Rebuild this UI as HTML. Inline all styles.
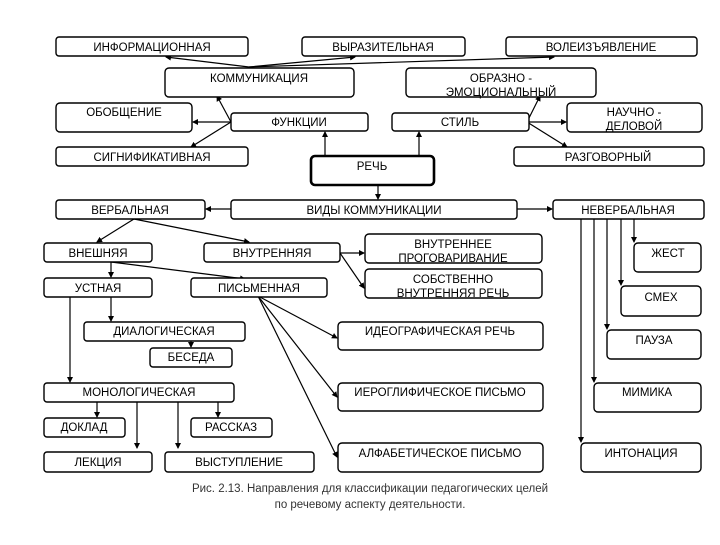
<!DOCTYPE html>
<html><head><meta charset="utf-8"><style>
body{margin:0;background:#fff}
svg text{font-family:"Liberation Sans Narrow","Liberation Sans",sans-serif;font-size:11.5px;fill:#000;text-anchor:middle}
.b{fill:#fff;stroke:#000;stroke-width:1.4}
.l{stroke:#000;stroke-width:1.2;fill:none}
.c{font-family:"Liberation Sans",sans-serif;font-size:11.5px;fill:#333}
</style></head><body>
<svg width="720" height="540" viewBox="0 0 720 540" xmlns="http://www.w3.org/2000/svg">
<defs><marker id="a" markerWidth="6" markerHeight="6" refX="5" refY="3" orient="auto" markerUnits="userSpaceOnUse"><path d="M0,0 L6,3 L0,6 z" fill="#000"/></marker></defs>
<g class="l" marker-end="url(#a)">
<line x1="249" y1="67" x2="166" y2="57"/><line x1="249" y1="67" x2="355" y2="57"/><line x1="249" y1="67" x2="554" y2="57"/>
<line x1="231" y1="122" x2="217" y2="96"/><line x1="231" y1="122" x2="193" y2="122"/><line x1="231" y1="122" x2="191" y2="147"/>
<line x1="527" y1="122" x2="540" y2="96"/><line x1="527" y1="122" x2="566" y2="122"/><line x1="527" y1="122" x2="567" y2="147"/>
<line x1="325" y1="156" x2="325" y2="132"/><line x1="419" y1="156" x2="419" y2="132"/><line x1="378" y1="185" x2="378" y2="199"/>
<line x1="231" y1="209" x2="206" y2="209"/><line x1="517" y1="209" x2="552" y2="209"/>
<line x1="134" y1="219" x2="97" y2="242"/><line x1="134" y1="219" x2="249" y2="242"/>
<line x1="340" y1="253" x2="364" y2="253"/><line x1="340" y1="253" x2="364" y2="288"/>
<line x1="111" y1="262" x2="111" y2="277"/><line x1="111" y1="262" x2="245" y2="279"/>
<line x1="111" y1="297" x2="111" y2="321"/><line x1="70" y1="297" x2="70" y2="382"/>
<line x1="191" y1="341" x2="191" y2="347"/>
<line x1="258" y1="296" x2="337" y2="338"/><line x1="258" y1="296" x2="337" y2="397"/><line x1="258" y1="296" x2="337" y2="457"/>
<line x1="97" y1="402" x2="97" y2="417"/><line x1="137" y1="402" x2="137" y2="448"/><line x1="178" y1="402" x2="178" y2="448"/><line x1="218" y1="402" x2="218" y2="417"/>
<line x1="634" y1="219" x2="634" y2="242"/><line x1="621" y1="219" x2="621" y2="285"/><line x1="607" y1="219" x2="607" y2="329"/><line x1="594" y1="219" x2="594" y2="382"/><line x1="581" y1="219" x2="581" y2="442"/>
</g>
<g class="b">
<rect x="56" y="37" width="192" height="19" rx="3"/><rect x="302" y="37" width="163" height="19" rx="3"/><rect x="506" y="37" width="191" height="19" rx="3"/>
<rect x="165" y="68" width="189" height="29" rx="4"/><rect x="406" y="68" width="190" height="29" rx="4"/>
<rect x="56" y="103" width="136" height="29" rx="4"/><rect x="231" y="113" width="137" height="18" rx="3"/><rect x="392" y="113" width="137" height="18" rx="3"/><rect x="567" y="103" width="135" height="29" rx="4"/>
<rect x="56" y="147" width="192" height="19" rx="3"/><rect x="514" y="147" width="190" height="19" rx="3"/>
<rect x="311" y="156" width="123" height="29" rx="4" style="stroke-width:2.6"/>
<rect x="56" y="200" width="149" height="19" rx="3"/><rect x="231" y="200" width="286" height="19" rx="3"/><rect x="553" y="200" width="151" height="19" rx="3"/>
<rect x="44" y="243" width="108" height="19" rx="3"/><rect x="204" y="243" width="136" height="19" rx="3"/>
<rect x="365" y="234" width="177" height="29" rx="4"/><rect x="365" y="269" width="177" height="29" rx="4"/>
<rect x="44" y="278" width="108" height="19" rx="3"/><rect x="191" y="278" width="136" height="19" rx="3"/>
<rect x="84" y="322" width="161" height="19" rx="3"/><rect x="150" y="348" width="82" height="19" rx="3"/>
<rect x="338" y="322" width="205" height="28" rx="4"/><rect x="338" y="383" width="205" height="28" rx="4"/><rect x="338" y="443" width="205" height="29" rx="4"/>
<rect x="44" y="383" width="190" height="19" rx="3"/><rect x="44" y="418" width="81" height="19" rx="3"/><rect x="191" y="418" width="81" height="19" rx="3"/>
<rect x="44" y="452" width="108" height="20" rx="3"/><rect x="165" y="452" width="149" height="20" rx="3"/>
<rect x="634" y="243" width="67" height="29" rx="4"/><rect x="621" y="286" width="80" height="30" rx="4"/><rect x="607" y="330" width="94" height="29" rx="4"/><rect x="594" y="383" width="107" height="29" rx="4"/><rect x="581" y="443" width="120" height="29" rx="4"/>
</g>
<text x="152" y="51">ИНФОРМАЦИОННАЯ</text><text x="383" y="51">ВЫРАЗИТЕЛЬНАЯ</text><text x="601" y="51">ВОЛЕИЗЪЯВЛЕНИЕ</text>
<text x="259" y="82">КОММУНИКАЦИЯ</text><text x="501" y="82">ОБРАЗНО -</text><text x="501" y="96">ЭМОЦИОНАЛЬНЫЙ</text>
<text x="124" y="116">ОБОБЩЕНИЕ</text><text x="299" y="126">ФУНКЦИИ</text><text x="460" y="126">СТИЛЬ</text>
<text x="634" y="116">НАУЧНО -</text><text x="634" y="130">ДЕЛОВОЙ</text>
<text x="152" y="161">СИГНИФИКАТИВНАЯ</text><text x="608" y="161">РАЗГОВОРНЫЙ</text><text x="372" y="170">РЕЧЬ</text>
<text x="130" y="214">ВЕРБАЛЬНАЯ</text><text x="374" y="214">ВИДЫ КОММУНИКАЦИИ</text><text x="628" y="214">НЕВЕРБАЛЬНАЯ</text>
<text x="98" y="257">ВНЕШНЯЯ</text><text x="272" y="257">ВНУТРЕННЯЯ</text>
<text x="453" y="248">ВНУТРЕННЕЕ</text><text x="453" y="262">ПРОГОВАРИВАНИЕ</text>
<text x="453" y="283">СОБСТВЕННО</text><text x="453" y="297">ВНУТРЕННЯЯ РЕЧЬ</text>
<text x="98" y="292">УСТНАЯ</text><text x="259" y="292">ПИСЬМЕННАЯ</text>
<text x="164" y="335">ДИАЛОГИЧЕСКАЯ</text><text x="191" y="361">БЕСЕДА</text>
<text x="440" y="335">ИДЕОГРАФИЧЕСКАЯ РЕЧЬ</text><text x="440" y="396">ИЕРОГЛИФИЧЕСКОЕ ПИСЬМО</text><text x="440" y="457">АЛФАБЕТИЧЕСКОЕ ПИСЬМО</text>
<text x="139" y="396">МОНОЛОГИЧЕСКАЯ</text><text x="84" y="431">ДОКЛАД</text><text x="231" y="431">РАССКАЗ</text>
<text x="98" y="466">ЛЕКЦИЯ</text><text x="239" y="466">ВЫСТУПЛЕНИЕ</text>
<text x="668" y="257">ЖЕСТ</text><text x="661" y="301">СМЕХ</text><text x="654" y="344">ПАУЗА</text><text x="647" y="396">МИМИКА</text><text x="641" y="457">ИНТОНАЦИЯ</text>
<text class="c" x="370" y="492">Рис. 2.13. Направления для классификации педагогических целей</text>
<text class="c" x="370" y="508">по  речевому  аспекту деятельности.</text>
</svg>
</body></html>
